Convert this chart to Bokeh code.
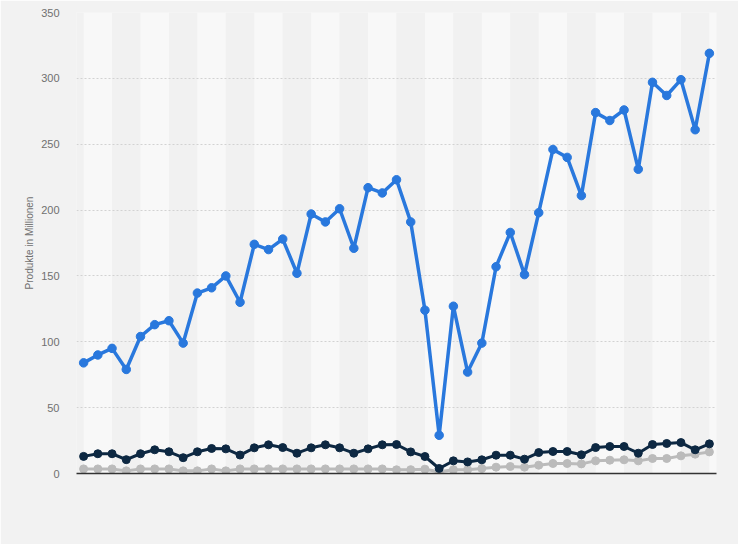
from bokeh.plotting import figure
from bokeh.models import Range1d, FixedTicker
from bokeh.embed import file_html
from bokeh.resources import INLINE

quarters = [f"Q{q} '{y:02d}" for y in range(14, 26) for q in range(1, 5)][:45]

blue = [84, 90, 95, 79, 104, 113, 116, 99, 137, 141, 150, 130,
        174, 170, 178, 152, 197, 191, 201, 171, 217, 213, 223, 191,
        124, 29, 127, 77, 99, 157, 183, 151, 198, 246, 240, 211,
        274, 268, 276, 231, 297, 287, 299, 261, 319]

navy = [13, 15, 15, 10.5, 15, 18, 16.5, 12, 16.5, 19, 18.7, 14,
        19.5, 21.8, 19.7, 15.4, 19.5, 21.8, 19.5, 15.4, 18.7, 21.8, 22, 16.4,
        12.9, 3.8, 9.6, 8.8, 10.4, 13.9, 13.9, 10.9, 15.9, 16.7, 16.7, 14.2,
        19.7, 20.5, 20.5, 15.4, 22, 22.8, 23.5, 18, 22.5]

gray = [3.5, 3.5, 3.5, 2, 3.5, 3.5, 3.5, 2, 2, 3.5, 2, 3.5,
        3.5, 3.5, 3.5, 3.5, 3.5, 3.5, 3.5, 3.5, 3.5, 3.5, 2.8, 2.9,
        3.3, 1.3, 2.9, 2.9, 3.8, 4.8, 5.3, 4.8, 6.3, 7.6, 7.6, 7.3,
        9.6, 10.1, 10.4, 9.6, 11.4, 11.4, 13.4, 14.7, 16.4]

y_ticks = [0, 50, 100, 150, 200, 250, 300, 350]

BG = "#f2f2f2"
BAND_LIGHT = "#f8f8f8"
BAND_DARK = "#f1f1f1"
C_BLUE = "#2978dd"
C_NAVY = "#0d2842"
C_GRAY = "#bbbbbb"

n = len(quarters)
x = list(range(n))

p = figure(width=738, height=544, output_backend="svg", toolbar_location=None,
           x_range=Range1d(-0.5, n - 0.5), y_range=Range1d(0, 350),
           min_border_left=76, min_border_right=22, min_border_top=12,
           min_border_bottom=71)
p.background_fill_color = BG
p.border_fill_color = BG
p.outline_line_color = None

# alternating background bands
lefts, rights, colors = [], [], []
for i in range(-2, n, 2):
    lefts.append(max(i, -0.5))
    rights.append(min(i + 2, n - 0.5))
    colors.append(BAND_LIGHT if (i // 2) % 2 == 0 else BAND_DARK)
p.quad(left=lefts, right=rights, bottom=0, top=350, fill_color=colors,
       line_color=None, level="image")

# grid
p.xgrid.visible = False
p.ygrid.ticker = FixedTicker(ticks=y_ticks[1:])
p.ygrid.grid_line_color = "#d2d2d2"
p.ygrid.grid_line_dash = "2 2"
p.ygrid.grid_line_width = 1

# axes
p.yaxis.ticker = FixedTicker(ticks=y_ticks)
p.yaxis.axis_line_color = None
p.yaxis.major_tick_line_color = None
p.yaxis.minor_tick_line_color = None
p.yaxis.major_tick_out = 0
p.yaxis.major_label_standoff = 17
p.yaxis.major_label_text_color = "#707070"
p.yaxis.major_label_text_font = "Liberation Sans"
p.yaxis.major_label_text_font_size = "11px"
p.yaxis.axis_label = "Produkte in Millionen"
p.yaxis.axis_label_text_font = "Liberation Sans"
p.yaxis.axis_label_text_font_size = "10px"
p.yaxis.axis_label_text_font_style = "normal"
p.yaxis.axis_label_text_color = "#707070"
p.yaxis.axis_label_standoff = 3

p.xaxis.ticker = FixedTicker(ticks=[])
p.xaxis.axis_line_color = "#333333"
p.xaxis.axis_line_width = 1.5
p.xaxis.major_tick_line_color = None
p.xaxis.minor_tick_line_color = None
p.xaxis.major_label_text_font_size = "0px"

# series
p.line(x, gray, line_color=C_GRAY, line_width=3)
p.scatter(x, gray, size=8, fill_color=C_GRAY, line_color=C_GRAY)
p.line(x, navy, line_color=C_NAVY, line_width=3)
p.scatter(x, navy, size=8, fill_color=C_NAVY, line_color=C_NAVY)
p.line(x, blue, line_color=C_BLUE, line_width=3.5)
p.scatter(x, blue, size=8.5, fill_color=C_BLUE, line_color=C_BLUE)

html = file_html(p, INLINE)
html = html.replace("<body>", '<body style="background-color:%s">' % BG, 1)
open("out.html", "w").write(html)
